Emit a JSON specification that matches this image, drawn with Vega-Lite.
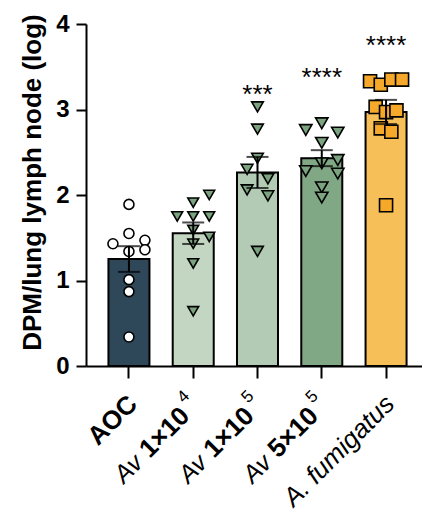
{
  "$schema": "https://vega.github.io/schema/vega-lite/v6.json",
  "autosize": "none",
  "padding": {"left": 86, "top": 24, "right": 0, "bottom": 146},
  "width": 343,
  "height": 342,
  "config": {"view": {"stroke": null}, "font": "Liberation Sans"},
  "datasets": {
    "pts": [
      {"group": "AOC", "value": 1.89, "slot": 0},
      {"group": "AOC", "value": 1.55, "slot": 0},
      {"group": "AOC", "value": 1.43, "slot": -1},
      {"group": "AOC", "value": 1.47, "slot": 1},
      {"group": "AOC", "value": 1.36, "slot": 1},
      {"group": "AOC", "value": 1.34, "slot": 0},
      {"group": "AOC", "value": 1.01, "slot": 0},
      {"group": "AOC", "value": 0.87, "slot": 0},
      {"group": "AOC", "value": 0.34, "slot": 0},
      {"group": "Av1e4", "value": 2.0, "slot": 1},
      {"group": "Av1e4", "value": 1.91, "slot": 0},
      {"group": "Av1e4", "value": 1.75, "slot": -1},
      {"group": "Av1e4", "value": 1.75, "slot": 0},
      {"group": "Av1e4", "value": 1.75, "slot": 1},
      {"group": "Av1e4", "value": 1.59, "slot": 0},
      {"group": "Av1e4", "value": 1.51, "slot": 1},
      {"group": "Av1e4", "value": 1.43, "slot": 0},
      {"group": "Av1e4", "value": 1.2, "slot": 0},
      {"group": "Av1e4", "value": 0.64, "slot": 0},
      {"group": "Av1e5", "value": 3.03, "slot": 0},
      {"group": "Av1e5", "value": 2.77, "slot": 0},
      {"group": "Av1e5", "value": 2.43, "slot": 0},
      {"group": "Av1e5", "value": 2.3, "slot": -0.65},
      {"group": "Av1e5", "value": 2.19, "slot": 0.65},
      {"group": "Av1e5", "value": 2.06, "slot": -0.65},
      {"group": "Av1e5", "value": 1.99, "slot": 0.65},
      {"group": "Av1e5", "value": 1.34, "slot": 0},
      {"group": "Av5e5", "value": 2.84, "slot": 0},
      {"group": "Av5e5", "value": 2.76, "slot": -1},
      {"group": "Av5e5", "value": 2.73, "slot": 1},
      {"group": "Av5e5", "value": 2.61, "slot": 0},
      {"group": "Av5e5", "value": 2.41, "slot": 1},
      {"group": "Av5e5", "value": 2.37, "slot": 0},
      {"group": "Av5e5", "value": 2.28, "slot": -1},
      {"group": "Av5e5", "value": 2.25, "slot": 1},
      {"group": "Av5e5", "value": 2.09, "slot": 0},
      {"group": "Av5e5", "value": 1.97, "slot": 0},
      {"group": "Afum", "value": 3.33, "slot": -1},
      {"group": "Afum", "value": 3.29, "slot": -0.33},
      {"group": "Afum", "value": 3.35, "slot": 0.33},
      {"group": "Afum", "value": 3.35, "slot": 1},
      {"group": "Afum", "value": 3.03, "slot": -0.65},
      {"group": "Afum", "value": 2.97, "slot": 0},
      {"group": "Afum", "value": 2.99, "slot": 0.65},
      {"group": "Afum", "value": 2.78, "slot": -0.33},
      {"group": "Afum", "value": 2.74, "slot": 0.33},
      {"group": "Afum", "value": 1.88, "slot": 0}
    ],
    "labels": [
      {"group": "AOC", "prefix": "", "main": "AOC", "sup": "", "sig": "", "sigY": 0},
      {"group": "Av1e4", "prefix": "Av", "main": "1×10", "sup": "4", "sig": "", "sigY": 0},
      {"group": "Av1e5", "prefix": "Av", "main": "1×10", "sup": "5", "sig": "***", "sigY": 3.22},
      {"group": "Av5e5", "prefix": "Av", "main": "5×10", "sup": "5", "sig": "****", "sigY": 3.41},
      {"group": "Afum", "prefix": "", "main": "A. fumigatus", "sup": "", "sig": "****", "sigY": 3.79}
    ]
  },
  "encoding": {
    "x": {
      "field": "group", "type": "nominal",
      "scale": {"domain": ["AOC", "Av1e4", "Av1e5", "Av5e5", "Afum"], "paddingInner": 0.362, "paddingOuter": 0.349},
      "axis": {"labels": false, "title": null, "domainColor": "black", "domainWidth": 2, "tickColor": "black", "tickWidth": 2, "tickSize": 12}
    }
  },
  "resolve": {"scale": {"xOffset": "independent"}},
  "layer": [
    {
      "data": {"name": "pts"},
      "mark": {"type": "bar", "stroke": "black", "strokeWidth": 2, "width": {"band": 1}},
      "encoding": {
        "y": {
          "aggregate": "mean", "field": "value", "type": "quantitative",
          "title": "DPM/lung lymph node (log)",
          "scale": {"domain": [0, 4], "nice": false},
          "axis": {
            "titleFontSize": 26, "titleFontWeight": "bold", "titleColor": "black", "titlePadding": 10, "titleY": 158,
            "values": [0, 1, 2, 3, 4], "format": "d", "grid": false,
            "labelFontSize": 24, "labelFontWeight": "bold", "labelColor": "black", "labelPadding": 7,
            "domainColor": "black", "domainWidth": 2, "tickColor": "black", "tickWidth": 2, "tickSize": 10
          }
        },
        "fill": {
          "field": "group", "type": "nominal", "legend": null,
          "scale": {"domain": ["AOC", "Av1e4", "Av1e5", "Av5e5", "Afum"], "range": ["#2F4859", "#C2D6C1", "#B3CBB4", "#80A884", "#F6BF57"]}
        }
      }
    },
    {
      "data": {"name": "pts"},
      "mark": {"type": "point", "filled": true, "stroke": "black", "strokeWidth": 1.6, "opacity": 1, "fillOpacity": 1},
      "encoding": {
        "y": {"field": "value", "type": "quantitative", "title": "DPM/lung lymph node (log)"},
        "xOffset": {"field": "slot", "type": "quantitative", "scale": {"domain": [-1, 1], "range": [4.5, 36.5]}},
        "shape": {
          "field": "group", "type": "nominal", "legend": null,
          "scale": {"domain": ["AOC", "Av1e4", "Av1e5", "Av5e5", "Afum"], "range": ["circle", "triangle-down", "triangle-down", "triangle-down", "square"]}
        },
        "color": {
          "field": "group", "type": "nominal", "legend": null,
          "scale": {"domain": ["AOC", "Av1e4", "Av1e5", "Av5e5", "Afum"], "range": ["#FFFFFF", "#7BA37F", "#7BA37F", "#7BA37F", "#F5A82A"]}
        },
        "size": {
          "field": "group", "type": "nominal", "legend": null,
          "scale": {"domain": ["AOC", "Av1e4", "Av1e5", "Av5e5", "Afum"], "range": [100, 170, 170, 170, 135]}
        }
      }
    },
    {
      "data": {"name": "pts"},
      "mark": {"type": "errorbar", "extent": "stderr", "ticks": true, "size": 22, "thickness": 2, "color": "black"},
      "encoding": {"y": {"field": "value", "type": "quantitative", "title": "DPM/lung lymph node (log)"}}
    },
    {
      "data": {"name": "labels"},
      "transform": [{"filter": "datum.sig != ''"}],
      "mark": {"type": "text", "fontSize": 26, "baseline": "middle", "color": "black", "dy": 4},
      "encoding": {"y": {"field": "sigY", "type": "quantitative", "title": "DPM/lung lymph node (log)"}, "text": {"field": "sig"}}
    },
    {
      "data": {"name": "labels"},
      "transform": [{"filter": "datum.group == 'AOC'"}],
      "mark": {"type": "text", "fontSize": 26, "fontWeight": "bold", "angle": 315, "align": "right", "baseline": "middle", "dx": -21, "dy": 27, "color": "black"},
      "encoding": {"y": {"datum": 0}, "text": {"field": "main"}}
    },
    {
      "data": {"name": "labels"},
      "transform": [{"filter": "datum.group == 'Afum'"}],
      "mark": {"type": "text", "fontSize": 26, "fontStyle": "italic", "angle": 315, "align": "right", "baseline": "middle", "dx": -21, "dy": 27, "color": "black"},
      "encoding": {"y": {"datum": 0}, "text": {"field": "main"}}
    },
    {
      "data": {"name": "labels"},
      "transform": [{"filter": "datum.prefix == 'Av'"}],
      "mark": {"type": "text", "fontSize": 26, "fontWeight": "bold", "angle": 315, "align": "right", "baseline": "middle", "dx": -38, "dy": 27, "color": "black"},
      "encoding": {"y": {"datum": 0}, "text": {"field": "main"}}
    },
    {
      "data": {"name": "labels"},
      "transform": [{"filter": "datum.prefix == 'Av'"}],
      "mark": {"type": "text", "fontSize": 17, "angle": 315, "align": "right", "baseline": "middle", "dx": -24, "dy": 15, "color": "black"},
      "encoding": {"y": {"datum": 0}, "text": {"field": "sup"}}
    },
    {
      "data": {"name": "labels"},
      "transform": [{"filter": "datum.prefix == 'Av'"}],
      "mark": {"type": "text", "fontSize": 25, "fontStyle": "italic", "angle": 315, "align": "right", "baseline": "middle", "dx": -104, "dy": 27, "color": "black"},
      "encoding": {"y": {"datum": 0}, "text": {"field": "prefix"}}
    }
  ]
}
